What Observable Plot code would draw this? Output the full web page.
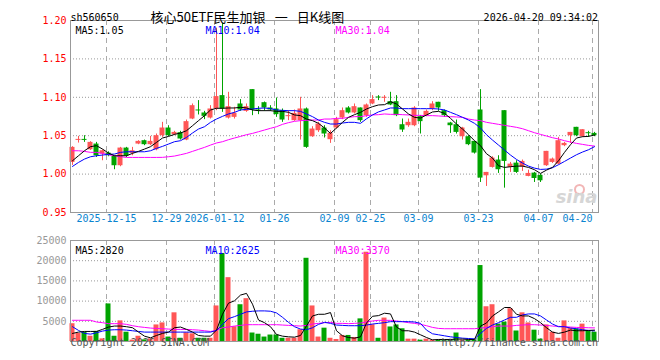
<!DOCTYPE html>
<html><head><meta charset="utf-8">
<script src="https://cdn.jsdelivr.net/npm/d3@7"></script>
<script src="https://cdn.jsdelivr.net/npm/@observablehq/plot@0.6"></script>
<style>
body{margin:0;background:#fff;}
#chart{position:relative;width:660px;height:360px;overflow:hidden;background:#fff;}
#chart svg{position:absolute;left:0;}
</style></head><body><div id="chart"></div>
<script>
// tick positions (trading-day index) and labels
const tickIndex = [6, 16, 24, 34, 44, 50, 58, 68, 78, 87];
const tickLabels = ["2025-12-15","12-29","2026-01-12","01-26","02-09","02-25","03-09","03-23","04-07","04-20"];
const priceTicks = [0.95, 1.00, 1.05, 1.10, 1.15, 1.20];
const volTicks = [5000, 10000, 15000, 20000, 25000];

const open = [1.0152,1.0439,1.0452,1.0317,1.0391,1.0261,1.0274,1.0230,1.0109,1.0339,
1.0270,1.0391,1.0435,1.0383,1.0317,1.0500,1.0600,1.0513,1.0539,1.0443,
1.0717,1.0835,1.0796,1.0730,1.0848,1.1022,1.0730,1.0739,1.0913,1.0817,
1.1100,1.0835,1.0930,1.0861,1.0848,1.0826,1.0748,1.0696,1.0696,1.0848,
1.0487,1.0565,1.0600,1.0448,1.0600,1.0730,1.0861,1.0796,1.0861,1.0761,
1.0913,1.1004,1.0987,1.0943,1.0943,1.0643,1.0630,1.0630,1.0748,1.0761,
1.0848,1.0935,1.0826,1.0665,1.0643,1.0487,1.0487,1.0426,1.0835,0.9978,
1.0087,1.0183,1.0826,1.0087,1.0143,1.0096,0.9970,1.0013,0.9983,1.0109,
1.0152,1.0130,1.0370,1.0500,1.0609,1.0487,1.0539,1.0530];
const close = [1.0348,1.0452,1.0439,1.0413,1.0239,1.0304,1.0239,1.0109,1.0339,1.0235,
1.0304,1.0426,1.0383,1.0426,1.0500,1.0600,1.0500,1.0543,1.0457,1.0683,
1.0891,1.0822,1.0752,1.0848,1.1009,1.0848,1.0878,1.0791,1.0835,1.0878,
1.0835,1.0822,1.0861,1.0835,1.0774,1.0704,1.0761,1.0791,1.0848,1.0348,
1.0587,1.0652,1.0522,1.0530,1.0709,1.0826,1.0796,1.0878,1.0696,1.0900,
1.0970,1.0991,1.1000,1.0900,1.0761,1.0574,1.0674,1.0861,1.0683,1.0817,
1.0913,1.0861,1.0761,1.0630,1.0543,1.0600,1.0383,1.0274,0.9948,1.0022,
1.0209,1.0057,1.0165,1.0130,1.0022,1.0165,1.0009,0.9943,0.9913,1.0296,
1.0196,1.0435,1.0400,1.0543,1.0500,1.0578,1.0526,1.0500];
const high = [1.0357,1.0491,1.0500,1.0422,1.0413,1.0313,1.0290,1.0239,1.0348,1.0348,
1.0348,1.0435,1.0443,1.0491,1.0522,1.0674,1.0630,1.0557,1.0557,1.0704,
1.0913,1.0957,1.0817,1.0891,1.1900,1.1960,1.1065,1.0870,1.0970,1.0913,
1.1100,1.0878,1.0939,1.0891,1.0991,1.0848,1.0826,1.0835,1.1000,1.0861,
1.0617,1.0674,1.0630,1.0565,1.0739,1.0861,1.0878,1.0913,1.0861,1.0913,
1.1022,1.1022,1.1022,1.1065,1.1022,1.0717,1.0717,1.0878,1.0761,1.0835,
1.0943,1.0935,1.0835,1.0674,1.0704,1.0609,1.0500,1.0426,1.1100,1.0022,
1.0226,1.0239,1.0826,1.0152,1.0174,1.0183,1.0052,1.0022,1.0000,1.0296,
1.0209,1.0478,1.0413,1.0543,1.0609,1.0578,1.0557,1.0543];
const low = [1.0113,1.0404,1.0413,1.0309,1.0217,1.0174,1.0226,1.0057,1.0096,1.0217,
1.0239,1.0383,1.0370,1.0370,1.0304,1.0478,1.0487,1.0500,1.0443,1.0435,
1.0709,1.0770,1.0709,1.0717,1.0826,1.0804,1.0717,1.0717,1.0817,1.0804,
1.0761,1.0774,1.0817,1.0817,1.0739,1.0674,1.0696,1.0687,1.0443,1.0335,
1.0478,1.0543,1.0470,1.0400,1.0587,1.0709,1.0783,1.0783,1.0674,1.0739,
1.0904,1.0957,1.0935,1.0891,1.0748,1.0543,1.0609,1.0617,1.0522,1.0748,
1.0826,1.0817,1.0739,1.0530,1.0522,1.0443,1.0370,1.0261,0.9891,0.9839,
1.0078,1.0009,0.9817,1.0022,1.0009,1.0035,0.9965,0.9891,0.9891,1.0100,
1.0139,1.0122,1.0357,1.0400,1.0487,1.0478,1.0478,1.0487];
const ma5 = [1.0174,1.0239,1.0304,1.0357,1.0370,1.0326,1.0274,1.0239,1.0239,1.0239,
1.0270,1.0296,1.0326,1.0357,1.0413,1.0470,1.0491,1.0517,1.0535,1.0565,
1.0630,1.0696,1.0761,1.0835,1.0857,1.0857,1.0861,1.0861,1.0870,1.0861,
1.0835,1.0826,1.0826,1.0826,1.0817,1.0817,1.0804,1.0770,1.0761,1.0717,
1.0696,1.0661,1.0600,1.0530,1.0600,1.0674,1.0739,1.0774,1.0804,1.0848,
1.0878,1.0900,1.0904,1.0943,1.0913,1.0848,1.0783,1.0739,1.0730,1.0770,
1.0809,1.0817,1.0791,1.0726,1.0652,1.0587,1.0513,1.0435,1.0370,1.0265,
1.0209,1.0109,1.0087,1.0096,1.0104,1.0104,1.0087,1.0057,1.0009,1.0052,
1.0087,1.0174,1.0283,1.0383,1.0470,1.0487,1.0491,1.0509];
const ma10 = [1.0100,1.0152,1.0196,1.0226,1.0239,1.0248,1.0257,1.0261,1.0283,1.0291,
1.0291,1.0291,1.0291,1.0304,1.0335,1.0361,1.0391,1.0422,1.0435,1.0478,
1.0535,1.0587,1.0617,1.0674,1.0717,1.0752,1.0783,1.0804,1.0835,1.0843,
1.0848,1.0857,1.0861,1.0852,1.0835,1.0830,1.0826,1.0826,1.0817,1.0783,
1.0748,1.0704,1.0674,1.0652,1.0652,1.0665,1.0674,1.0674,1.0661,1.0720,
1.0770,1.0810,1.0835,1.0861,1.0861,1.0852,1.0852,1.0852,1.0852,1.0852,
1.0852,1.0848,1.0835,1.0804,1.0774,1.0739,1.0704,1.0661,1.0600,1.0513,
1.0443,1.0378,1.0313,1.0248,1.0191,1.0143,1.0104,1.0078,1.0061,1.0065,
1.0083,1.0122,1.0165,1.0209,1.0252,1.0287,1.0317,1.0357];
const ma30 = [1.0304,1.0304,1.0296,1.0283,1.0283,1.0270,1.0252,1.0239,1.0226,1.0217,
1.0217,1.0217,1.0217,1.0217,1.0217,1.0218,1.0226,1.0235,1.0252,1.0270,
1.0296,1.0322,1.0348,1.0378,1.0405,1.0422,1.0448,1.0470,1.0491,1.0513,
1.0530,1.0552,1.0574,1.0596,1.0617,1.0648,1.0670,1.0687,1.0696,1.0700,
1.0704,1.0704,1.0717,1.0717,1.0726,1.0726,1.0739,1.0748,1.0748,1.0761,
1.0770,1.0774,1.0783,1.0778,1.0778,1.0774,1.0770,1.0765,1.0765,1.0761,
1.0761,1.0757,1.0752,1.0748,1.0744,1.0739,1.0717,1.0704,1.0696,1.0674,
1.0661,1.0648,1.0635,1.0622,1.0609,1.0591,1.0565,1.0539,1.0517,1.0496,
1.0474,1.0457,1.0435,1.0417,1.0400,1.0387,1.0374,1.0365];
const volume = [4400,2000,2300,1300,2500,650,9300,1300,5100,2300,
330,1300,400,650,4100,4600,1100,7100,800,2150,
1900,800,800,800,8800,21800,15800,3650,9100,10600,
2100,1800,1100,1600,1600,800,800,800,2900,20600,
8800,1100,3300,800,500,1500,1500,1000,5600,22100,
4150,800,5800,3600,4100,3150,580,580,330,580,
330,330,330,330,2100,330,330,330,18800,8600,
9100,4300,4800,8100,2600,7100,4600,2800,580,4100,
2300,800,5100,3300,3100,4300,2600,2300];
const vma5 = [2000,2325,2490,2490,2490,3000,3575,3825,3825,3660,
3410,2325,1325,910,1490,2000,2325,3410,3575,3000,
2325,1490,1325,1325,2825,6740,9490,10075,11490,11910,
9240,5325,4660,3660,1740,1325,1160,1075,1490,3825,
6325,6740,6740,7160,2660,1410,990,825,1160,4575,
6240,6410,7000,6825,3575,2660,2660,2325,1660,990,
410,500,500,500,600,600,500,500,3825,4575,
6325,7325,8410,8410,6740,6325,6325,5660,4660,3410,
2325,2000,2325,2825,2660,2660,2740,2820];
const vma10 = [3660,2740,2000,1825,2160,2575,2825,2910,2910,2825,
2660,2490,2325,2325,2325,2325,2325,2325,2325,2325,
2325,2325,2325,2325,2740,4240,5660,6160,6740,7325,
7490,7575,7575,7490,7075,5990,4740,3660,3075,2910,
3410,4240,4740,4490,4075,3990,3910,3910,3910,4075,
4325,4490,4660,4910,4910,4910,4910,4825,4490,2825,
1910,1660,1410,1160,990,825,740,660,1990,3240,
4075,4660,5325,5990,5990,6575,6825,6825,6325,5325,
4325,3660,3660,3325,3160,2910,2740,2625];
const vma30 = [5250,5250,5250,5250,4825,4660,4410,4410,4410,4240,
3910,3660,3490,3325,3240,3160,3075,2990,2990,2990,
2910,2825,2660,2490,2740,3410,3575,3825,3990,4160,
4160,4160,4160,4160,4160,4075,3990,3910,3825,3990,
4325,4490,4660,4740,4490,4490,4410,4490,4575,4825,
5075,5240,5240,5240,5075,4910,4660,4490,4240,3910,
3490,3240,3160,3160,3160,3160,3160,3160,3325,3490,
3660,3825,3825,3825,3990,4075,4160,4160,4075,3990,
3825,3740,3660,3575,3490,3450,3400,3370];

const N = close.length;
const rows = d3.range(N).map(i => ({i, open: open[i], close: close[i], high: high[i], low: low[i],
  volume: volume[i], ma5: ma5[i], ma10: ma10[i], ma30: ma30[i], vma5: vma5[i], vma10: vma10[i], vma30: vma30[i],
  up: close[i] >= open[i]}));
const ticks = tickIndex.map((t, j) => ({t, label: tickLabels[j]}));

const RED = "#ff5656", GREEN = "#00a400";
const MONO = "DejaVu Sans Mono";
const CJK = "Noto Sans CJK SC";
const col = d => d.up ? RED : GREEN;
const xOpt = {domain: [-0.5, N - 0.5], axis: null};
const TITLE = "核心50ETF民生加银\u2002\u2009一\u2002\u2009日K线图";

const p1 = Plot.plot({
  width: 660, height: 230, marginLeft: 70, marginRight: 62, marginTop: 20, marginBottom: 18,
  style: {fontFamily: MONO, fontSize: "10px", background: "transparent", overflow: "visible"},
  color: {type: "identity"},
  x: xOpt,
  y: {domain: [0.95, 1.20]},
  marks: [
    Plot.ruleY(priceTicks.slice(1, -1), {stroke: "#999", strokeDasharray: "1,2"}),
    Plot.ruleX(ticks, {x: d => d.t - 0.5, stroke: "#aaa", strokeDasharray: "5,4"}),
    Plot.dot([0], {frameAnchor: "bottom-right", dx: -19, dy: -23, r: 4.5, stroke: "#f2b6b6", strokeWidth: 2, fill: "none"}),
    Plot.text(["sina"], {frameAnchor: "bottom-right", dx: -1, dy: -10, textAnchor: "end", fontSize: 18,
      fontStyle: "italic", fontWeight: "bold", fontFamily: "DejaVu Sans", fill: "#d6d6d6"}),
    Plot.ruleX(rows, {x: "i", y1: "low", y2: "high", stroke: col, dx: -1}),
    Plot.rect(rows, {x1: d => d.i - 0.5, x2: d => d.i + 0.5, y1: "open", y2: "close", fill: col,
      insetLeft: 0.5, insetRight: 0.5, dx: -1}),
    Plot.line(rows, {x: "i", y: "ma30", stroke: "#ff00ff", strokeWidth: 1, dx: -1}),
    Plot.line(rows, {x: "i", y: "ma10", stroke: "#0000ff", strokeWidth: 1, dx: -1}),
    Plot.line(rows, {x: "i", y: "ma5", stroke: "#000", strokeWidth: 1, dx: -1}),
    Plot.frame({stroke: "#999"}),
    Plot.axisY(priceTicks, {tickSize: 0, tickPadding: 4, tickFormat: d => d.toFixed(2), color: "#f00", fontSize: 10}),
    Plot.text(ticks.slice(0, -1), {x: d => d.t - 0.5, text: "label", frameAnchor: "bottom", dy: 9.8, fill: "#0a84d0"}),
    Plot.text(ticks.slice(-1), {x: d => d.t - 0.5, text: "label", frameAnchor: "bottom", dy: 9.8, textAnchor: "end", fill: "#0a84d0"}),
    Plot.text(["sh560650"], {frameAnchor: "top-left", dy: -7, textAnchor: "start", fill: "#000"}),
    Plot.text([TITLE], {frameAnchor: "top-left", dx: 80, dy: -7.5, textAnchor: "start",
      fontFamily: CJK, fontSize: 13, fill: "#000"}),
    Plot.text(["2026-04-20 09:34:02"], {frameAnchor: "top-right", dx: -0.5, dy: -7, textAnchor: "end", fill: "#000"}),
    Plot.text(["MA5:1.05"], {frameAnchor: "top-left", dx: 5, dy: 6.5, textAnchor: "start", fill: "#000"}),
    Plot.text(["MA10:1.04"], {frameAnchor: "top-left", dx: 135, dy: 6.5, textAnchor: "start", fill: "#0000ff"}),
    Plot.text(["MA30:1.04"], {frameAnchor: "top-left", dx: 265, dy: 6.5, textAnchor: "start", fill: "#ff00ff"})
  ]
});
p1.style.top = "0px";

const p2 = Plot.plot({
  width: 660, height: 130, marginLeft: 70, marginRight: 62, marginTop: 10, marginBottom: 19,
  style: {fontFamily: MONO, fontSize: "10px", background: "transparent", overflow: "visible"},
  color: {type: "identity"},
  x: xOpt,
  y: {domain: [0, 25000]},
  marks: [
    Plot.ruleY(volTicks.slice(0, -1), {stroke: "#999", strokeDasharray: "1,2"}),
    Plot.ruleX(ticks, {x: d => d.t - 0.5, stroke: "#aaa", strokeDasharray: "5,4"}),
    Plot.rect(rows, {x1: d => d.i - 0.5, x2: d => d.i + 0.5, y1: 0, y2: "volume", fill: col,
      insetLeft: 0.5, insetRight: 0.5, dx: -1}),
    Plot.line(rows, {x: "i", y: "vma30", stroke: "#ff00ff", strokeWidth: 1, dx: -1}),
    Plot.line(rows, {x: "i", y: "vma10", stroke: "#0000ff", strokeWidth: 1, dx: -1}),
    Plot.line(rows, {x: "i", y: "vma5", stroke: "#000", strokeWidth: 1, dx: -1}),
    Plot.frame({stroke: "#999"}),
    Plot.axisY(volTicks, {tickSize: 0, tickPadding: 4, tickFormat: d => String(d), color: "#999", fontSize: 10}),
    Plot.text(["MA5:2820"], {frameAnchor: "top-left", dx: 5, dy: 6.8, textAnchor: "start", fill: "#000"}),
    Plot.text(["MA10:2625"], {frameAnchor: "top-left", dx: 135, dy: 6.8, textAnchor: "start", fill: "#0000ff"}),
    Plot.text(["MA30:3370"], {frameAnchor: "top-left", dx: 265, dy: 6.8, textAnchor: "start", fill: "#ff00ff"}),
    Plot.text(["Copyright 2026 SINA.COM"], {frameAnchor: "bottom-left", dy: 4.5, textAnchor: "start", fill: "#555"}),
    Plot.text(["http://finance.sina.com.cn"], {frameAnchor: "bottom-right", dx: -0.5, dy: 4.5, textAnchor: "end", fill: "#555"})
  ]
});
p2.style.top = "230px";

const c = document.getElementById("chart");
c.appendChild(p1);
c.appendChild(p2);
</script></body></html>
